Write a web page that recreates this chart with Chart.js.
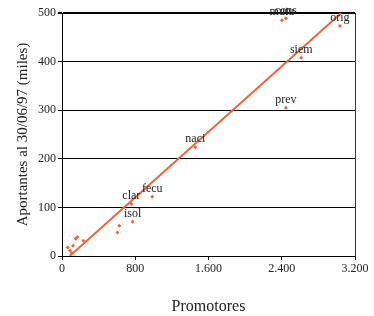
<!DOCTYPE html>
<html>
<head>
<meta charset="utf-8">
<script src="https://cdn.jsdelivr.net/npm/chart.js@4/dist/chart.umd.min.js"></script>
<style>
html,body{margin:0;padding:0;background:#fff;}
#wrap{width:374px;height:316px;}
</style>
</head>
<body>
<div id="wrap"><canvas id="c" width="374" height="316"></canvas></div>
<script>
// Data
const promotores = [62, 87, 106, 120, 149, 167, 233, 604, 626, 772, 757, 986, 1456, 2445, 2613, 3035, 2402, 2445];
const aportantes = [17.7, 11.5, 6, 21, 35.5, 39, 31.4, 48.5, 62, 70.4, 107, 122, 224, 305, 408, 473, 485, 489];
const pointLabels = ['', '', '', '', '', '', '', '', '', 'isol', 'clar', 'fecu', 'naci', 'prev', 'siem', 'orig', 'mutu', 'cons'];
const trendX = [85, 3050];
const trendY = [0, 500];
const xTickValues = [0, 800, 1600, 2400, 3200];
const xTickLabels = ['0', '800', '1.600', '2.400', '3.200'];
const yTickValues = [0, 100, 200, 300, 400, 500];
const yTickLabels = ['0', '100', '200', '300', '400', '500'];

const ORANGE = '#f0643c';
const SERIF = '"Liberation Serif", "DejaVu Serif", serif';

const labelPlugin = {
  id: 'pointLabels',
  afterDatasetsDraw(chart) {
    const ctx = chart.ctx;
    const meta = chart.getDatasetMeta(0);
    ctx.save();
    ctx.font = '12px ' + SERIF;
    ctx.fillStyle = '#222';
    ctx.textAlign = 'center';
    ctx.textBaseline = 'middle';
    meta.data.forEach((pt, i) => {
      const t = pointLabels[i];
      if (t) ctx.fillText(t, pt.x, pt.y - 8);
    });
    ctx.restore();
  }
};
const borderPlugin = {
  id: 'rightBorder',
  beforeDatasetsDraw(chart) {
    const a = chart.chartArea, ctx = chart.ctx;
    ctx.save();
    ctx.strokeStyle = '#333';
    ctx.lineWidth = 1;
    ctx.beginPath();
    ctx.moveTo(a.right + 0.5, a.top);
    ctx.lineTo(a.right + 0.5, a.bottom);
    ctx.stroke();
    ctx.restore();
  }
};

new Chart(document.getElementById('c'), {
  type: 'scatter',
  data: {
    datasets: [
      {
        data: promotores.map((x, i) => ({x: x, y: aportantes[i]})),
        pointStyle: 'rectRot',
        radius: 2,
        backgroundColor: ORANGE,
        borderColor: ORANGE,
        borderWidth: 0,
        order: 1
      },
      {
        type: 'line',
        data: trendX.map((x, i) => ({x: x, y: trendY[i]})),
        borderColor: ORANGE,
        borderWidth: 2,
        pointRadius: 0,
        fill: false,
        order: 2
      }
    ]
  },
  options: {
    responsive: false,
    devicePixelRatio: 1,
    animation: false,
    layout: {padding: {top: 13, right: 19, left: 0, bottom: 0}},
    plugins: {legend: {display: false}, tooltip: {enabled: false}},
    scales: {
      x: {
        type: 'linear',
        min: 0, max: 3200,
        afterBuildTicks: s => { s.ticks = xTickValues.map(v => ({value: v})); },
        afterFit: s => { s.height = 60; },
        ticks: {
          color: '#222',
          font: {family: SERIF, size: 12},
          padding: 2,
          maxRotation: 0,
          callback: v => xTickLabels[xTickValues.indexOf(v)]
        },
        grid: {drawOnChartArea: false, color: '#000', tickLength: 4},
        border: {color: '#000', width: 1},
        title: {display: true, text: 'Promotores', color: '#222', font: {family: SERIF, size: 16}, padding: {top: 0, bottom: 0}}
      },
      y: {
        type: 'linear',
        min: 0, max: 500,
        afterBuildTicks: s => { s.ticks = yTickValues.map(v => ({value: v})); },
        afterFit: s => { s.width = 62; },
        ticks: {
          color: '#222',
          font: {family: SERIF, size: 12},
          padding: 2,
          callback: v => yTickLabels[yTickValues.indexOf(v)]
        },
        grid: {color: '#000', lineWidth: c => (c.tick && c.tick.value === 500 ? 2 : 1), tickLength: 4},
        border: {color: '#000', width: 1},
        title: {display: true, text: 'Aportantes al 30/06/97 (miles)', color: '#222', font: {family: SERIF, size: 15}, padding: {top: 14, bottom: 0}}
      }
    }
  },
  plugins: [labelPlugin, borderPlugin]
});
</script>
</body>
</html>
